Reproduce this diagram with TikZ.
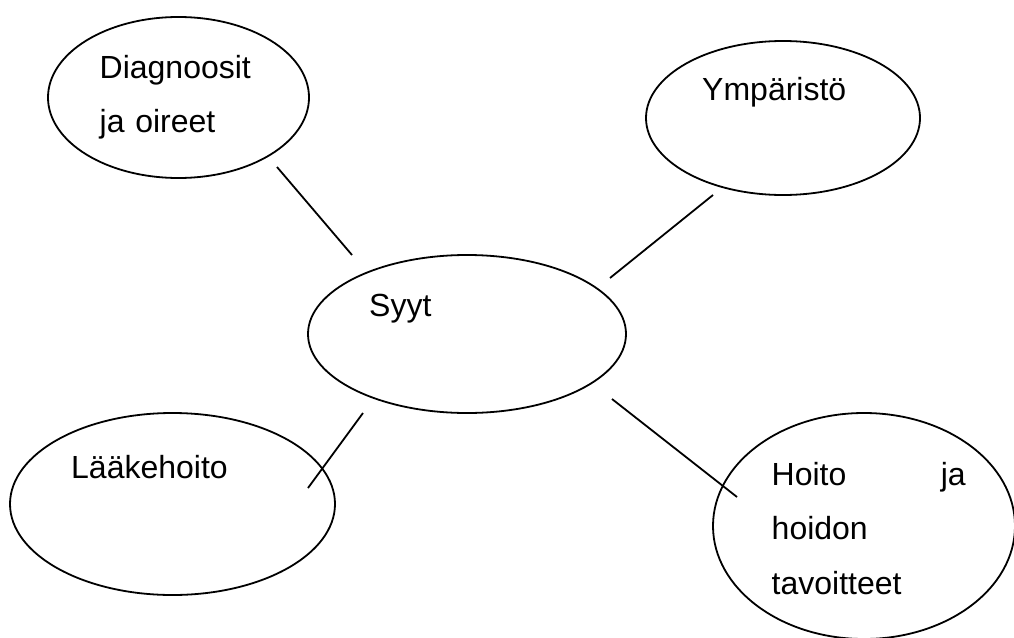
\documentclass[tikz,border=0pt]{standalone}
\usepackage{fontspec}
\setmainfont{Liberation Sans}
\usetikzlibrary{shapes.geometric}
\tikzset{
  bub/.style ={ellipse, draw=black, line width=1.8pt, inner sep=0pt},
  lbl/.style ={anchor=base west, inner sep=0pt, align=left,
               font=\fontsize{32}{54.5}\selectfont},
  ln/.style  ={draw=black, line width=1.8pt},
}
\begin{document}
\begin{tikzpicture}[x=1pt, y=-1pt]
\useasboundingbox (0,0) rectangle (1014,637);
% bubbles
\node[bub, minimum width=261pt, minimum height=161pt] (diag) at (178.5,97.5) {};
\node[bub, minimum width=274pt, minimum height=154pt] (ymp)  at (783,118) {};
\node[bub, minimum width=318pt, minimum height=158pt] (syyt) at (467,334) {};
\node[bub, minimum width=325pt, minimum height=182pt] (laak) at (172.5,504) {};
\node[bub, minimum width=302pt, minimum height=226pt] (hoit) at (864,526) {};
% texts
\node[lbl, text width=160pt] (diagt) at (99.5,78) {Diagnoosit\\ja oireet};
\node[lbl] (ympt)  at (702,100) {Ympäristö};
\node[lbl] (syyt)  at (369,316) {Syyt};
\node[lbl] (laakt) at (71,478) {Lääkehoito};
\node[lbl, text width=194pt] (hoitt) at (771.5,485) {Hoito\hfill ja\\hoidon\\tavoitteet};
% line ends
\coordinate (d1) at (277,167); \coordinate (s1) at (352,255);
\coordinate (y1) at (713,195); \coordinate (s2) at (610,278);
\coordinate (s3) at (363,413); \coordinate (l1) at (308,488);
\coordinate (s4) at (612,399); \coordinate (h1) at (737,497);
\draw[ln] (d1)--(s1);
\draw[ln] (y1)--(s2);
\draw[ln] (s3)--(l1);
\draw[ln] (s4)--(h1);
\end{tikzpicture}
\end{document}
